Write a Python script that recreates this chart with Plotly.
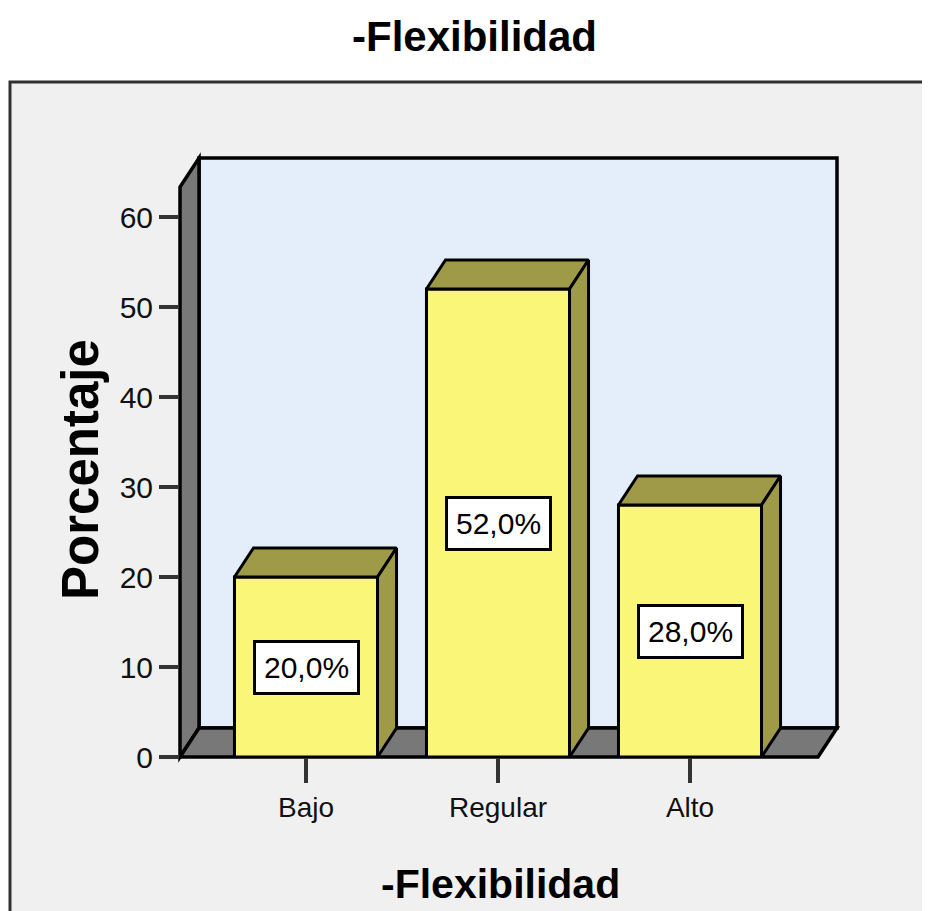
import plotly.graph_objects as go

# ---- data ----
categories = ["Bajo", "Regular", "Alto"]
percentages = [20.0, 52.0, 28.0]
label_texts = ["20,0%", "52,0%", "28,0%"]
y_tick_values = [0, 10, 20, 30, 40, 50, 60]
chart_title = "-Flexibilidad"
x_title = "-Flexibilidad"
y_title = "Porcentaje"

# ---- layout geometry (page body adds an 8px offset) ----
OFF = 8
W, H = 930, 911
L = 180 - OFF
T = 158 - OFF
R = W - (837 - OFF)
B = H - (757 - OFF)
XR = (-0.65625, 2.765625)
YR = (0, 66.5556)
DX, DY = 0.099, 3.222   # 3D depth offset in data units
BW = 0.745              # bar width

FONT = "Liberation Sans Narrow, Arial Narrow, Liberation Sans, Arial, sans-serif"
BOLD_FONT = "Liberation Sans, Arial, sans-serif"

YELLOW = "#faf778"
OLIVE = "#9e9a48"
GREY = "#787878"
WALL = "#e3eefa"
FRAME = "#f0f0f0"


def px(u):
    return (u - XR[0]) / (XR[1] - XR[0])


def py(v):
    return (v - YR[0]) / (YR[1] - YR[0])


def ppx(pix):
    return (pix - OFF - L) / (W - L - R)


def ppy(piy):
    return ((H - B) - (piy - OFF)) / (H - T - B)


def path(pts):
    return "M " + " L ".join(f"{px(a):.5f},{py(b):.5f}" for a, b in pts) + " Z"


x0, x1 = XR[0], XR[1]
ymax = YR[1]

shapes = [
    # outer frame
    dict(type="rect", xref="paper", yref="paper", layer="below",
         x0=ppx(10), x1=ppx(960), y0=ppy(82), y1=ppy(940),
         fillcolor=FRAME, line=dict(color="#303030", width=3)),
    # back wall
    dict(type="path", xref="paper", yref="paper", layer="below",
         path=path([(x0 + DX, DY), (x0 + DX, ymax), (x1, ymax), (x1, DY)]),
         fillcolor=WALL, line=dict(color="black", width=3.5)),
    # left wall
    dict(type="path", xref="paper", yref="paper", layer="below",
         path=path([(x0, 0), (x0, ymax - DY), (x0 + DX, ymax), (x0 + DX, DY)]),
         fillcolor=GREY, line=dict(color="black", width=3.5)),
    # floor
    dict(type="path", xref="paper", yref="paper", layer="below",
         path=path([(x0, 0), (x1 - DX, 0), (x1, DY), (x0 + DX, DY)]),
         fillcolor=GREY, line=dict(color="black", width=3.5)),
]

fig = go.Figure()

xs = list(range(len(categories)))
fig.add_trace(go.Bar(
    x=xs, y=percentages, width=BW,
    marker=dict(color=YELLOW, line=dict(color="black", width=3)),
    cliponaxis=False, hoverinfo="skip", showlegend=False,
))

for c, v in zip(xs, percentages):
    xl, xr = c - BW / 2, c + BW / 2
    top_x = [xl, xl + DX, xr + DX, xr, xl]
    top_y = [v, v + DY, v + DY, v, v]
    fig.add_trace(go.Scatter(
        x=top_x, y=top_y, mode="lines", fill="toself", fillcolor=OLIVE,
        line=dict(color="black", width=3), cliponaxis=False,
        hoverinfo="skip", showlegend=False,
    ))
    side_x = [xr, xr, xr + DX, xr + DX, xr]
    side_y = [0, v, v + DY, DY, 0]
    fig.add_trace(go.Scatter(
        x=side_x, y=side_y, mode="lines", fill="toself", fillcolor=OLIVE,
        line=dict(color="black", width=3), cliponaxis=False,
        hoverinfo="skip", showlegend=False,
    ))

annotations = []
for c, v, t in zip(xs, percentages, label_texts):
    annotations.append(dict(
        x=c, y=v / 2, xref="x", yref="y", text=t, showarrow=False,
        font=dict(family=FONT, size=30, color="black"),
        bgcolor="white", bordercolor="black", borderwidth=3, borderpad=8,
        xanchor="center", yanchor="middle",
    ))

annotations += [
    dict(x=ppx(474), y=ppy(37), xref="paper", yref="paper", text=f"<b>{chart_title}</b>",
         showarrow=False, xanchor="center", yanchor="middle",
         font=dict(family=BOLD_FONT, size=42, color="black")),
    dict(x=ppx(500), y=ppy(884), xref="paper", yref="paper", text=f"<b>{x_title}</b>",
         showarrow=False, xanchor="center", yanchor="middle",
         font=dict(family=BOLD_FONT, size=41, color="black")),
    dict(x=ppx(80), y=ppy(470), xref="paper", yref="paper", text=f"<b>{y_title}</b>",
         showarrow=False, xanchor="center", yanchor="middle", textangle=-90,
         font=dict(family=BOLD_FONT, size=51, color="black")),
]

fig.update_layout(
    width=W, height=H,
    margin=dict(l=L, r=R, t=T, b=B, pad=0),
    paper_bgcolor="white",
    plot_bgcolor="rgba(0,0,0,0)",
    shapes=shapes,
    annotations=annotations,
    showlegend=False,
    xaxis=dict(
        range=list(XR), tickvals=xs, ticktext=categories,
        showgrid=False, zeroline=False, showline=False,
        ticks="outside", ticklen=25, tickwidth=4, tickcolor="#333333",
        tickfont=dict(family=FONT, size=28, color="#111111"),
        fixedrange=True,
    ),
    yaxis=dict(
        range=list(YR), tickvals=y_tick_values,
        showgrid=False, zeroline=False, showline=False,
        ticks="outside", ticklen=20, tickwidth=4, tickcolor="#333333",
        tickfont=dict(family=FONT, size=30, color="#111111"),
        fixedrange=True,
    ),
)

fig.write_html("out.html")
